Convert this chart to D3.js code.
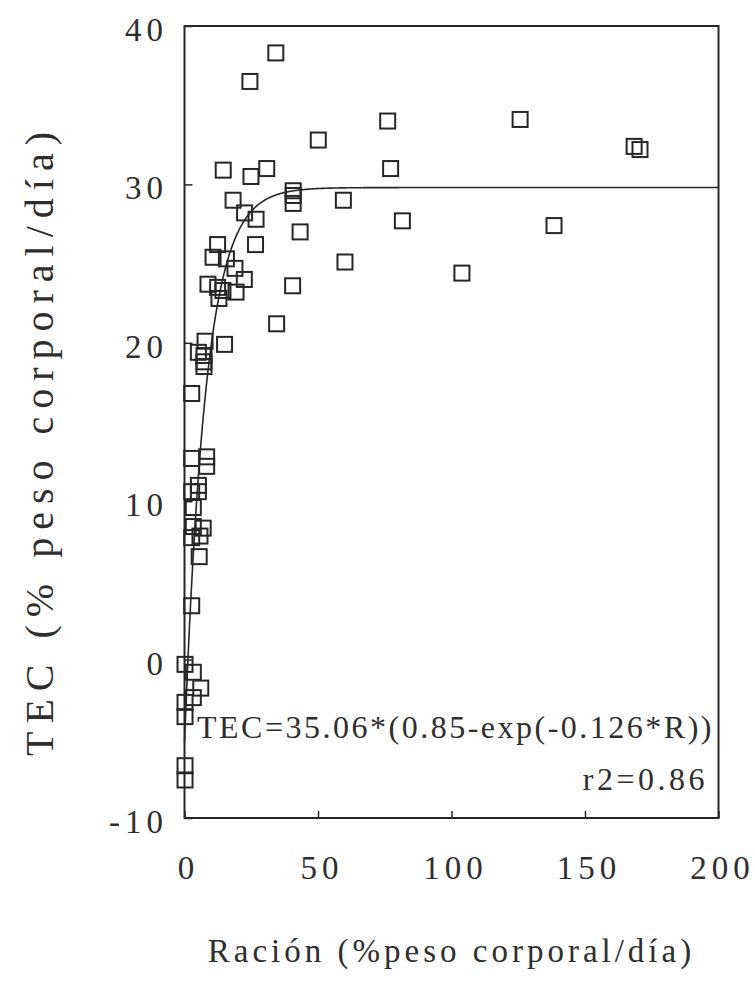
<!DOCTYPE html>
<html>
<head>
<meta charset="utf-8">
<script src="https://cdn.jsdelivr.net/npm/d3@7"></script>
<style>
  html, body { margin: 0; padding: 0; background: #ffffff; }
  svg { display: block; }
</style>
</head>
<body>
<div id="chart"></div>
<script>
// Ración (% peso corporal/día) for each observation
const racion = [
  34.2, 24.5, 50.1, 76.1, 125.7, 168.4, 170.6, 77.2, 14.5, 24.9,
  30.8, 40.7, 40.7, 40.7, 18.2, 59.5, 22.5, 26.8, 81.6, 138.4,
  43.3, 12.4, 26.6, 10.7, 15.7, 60.1, 18.9, 22.4, 103.9, 8.8,
  40.5, 12.4, 14.4, 19.3, 12.9, 34.5, 15.0, 7.7, 5.2, 7.3,
  7.3, 7.3, 2.7, 2.7, 8.3, 8.3, 5.2, 5.2, 2.7, 3.3,
  3.3, 7.0, 5.8, 2.7, 5.5, 2.7, 0.2, 3.3, 6.1, 3.3,
  0.2, 0.2, 0.2, 0.2
];
// TEC (% peso corporal/día) for each observation
const tec = [
  38.3, 36.5, 32.8, 34.0, 34.1, 32.4, 32.2, 31.0, 30.9, 30.5,
  31.0, 29.6, 29.3, 28.8, 29.0, 29.0, 28.2, 27.8, 27.7, 27.4,
  27.0, 26.2, 26.2, 25.4, 25.3, 25.1, 24.7, 24.0, 24.4, 23.7,
  23.6, 23.5, 23.3, 23.2, 22.8, 21.2, 19.9, 20.1, 19.4, 19.2,
  18.8, 18.5, 16.8, 12.7, 12.8, 12.2, 11.0, 10.6, 10.6, 9.6,
  8.4, 8.3, 7.8, 7.7, 6.5, 3.4, -0.3, -0.8, -1.8, -2.4,
  -2.7, -3.6, -6.7, -7.6
];

// Fitted model TEC = A*(B - exp(-K*R))
const fitA = 35.06;
const fitB = 0.85;
const fitK = 0.126;
const fitR2 = 0.86;

const xTicks = [0, 50, 100, 150, 200];
const yTicks = [-10, 0, 10, 20, 30, 40];

const xTitle = "Ración (%peso corporal/día)";
const yTitle = "TEC (% peso corporal/día)";
const eqLabel = "TEC=" + fitA.toFixed(2) + "*(" + fitB.toFixed(2) + "-exp(-" + fitK.toFixed(3) + "*R))";
const r2Label = "r2=" + fitR2.toFixed(2);

const W = 755, H = 986;
const plot = { left: 184.5, right: 718.5, top: 26, bottom: 818 };
const serif = "'Liberation Serif', 'Times New Roman', Times, 'DejaVu Serif', serif";
const ink = "#262626";
const textInk = "#2e2e2e";
const tickFont = 33, tickSpacing = 5;

const svg = d3.select("#chart").append("svg")
  .attr("width", W).attr("height", H)
  .attr("font-family", serif);

svg.append("rect").attr("width", W).attr("height", H).attr("fill", "#ffffff");

const x = d3.scaleLinear().domain([0, 200]).range([plot.left, plot.right]);
const y = d3.scaleLinear().domain([-10, 40]).range([plot.bottom, plot.top]);

// inward ticks along the bottom and left
const xAxis = d3.axisBottom(x).tickValues(xTicks).tickSize(-7).tickFormat("");
const yAxis = d3.axisLeft(y).tickValues(yTicks).tickSize(-8).tickFormat("");

svg.append("g").attr("transform", `translate(0,${plot.bottom})`).call(xAxis)
  .call(g => g.select(".domain").remove())
  .call(g => g.selectAll("line").attr("stroke", ink).attr("stroke-width", 1.5));
svg.append("g").attr("transform", `translate(${plot.left},0)`).call(yAxis)
  .call(g => g.select(".domain").remove())
  .call(g => g.selectAll("line").attr("stroke", ink).attr("stroke-width", 1.5));

// tick labels (letter-spacing also trails the last glyph, so shift by it)
svg.append("g").selectAll("text").data(xTicks).join("text")
  .attr("x", d => x(d) + 1.5 + tickSpacing / 2)
  .attr("y", 879)
  .attr("text-anchor", "middle")
  .attr("font-family", serif)
  .attr("font-size", tickFont)
  .attr("letter-spacing", tickSpacing)
  .attr("fill", textInk)
  .text(d => d);

svg.append("g").selectAll("text").data(yTicks).join("text")
  .attr("x", 163 + tickSpacing)
  .attr("y", d => y(d) + 15)
  .attr("text-anchor", "end")
  .attr("font-family", serif)
  .attr("font-size", tickFont)
  .attr("letter-spacing", tickSpacing)
  .attr("fill", textInk)
  .text(d => d);

// fitted curve
const curveR = d3.range(0, 200.01, 0.25);
const line = d3.line()
  .x(r => x(r))
  .y(r => y(fitA * (fitB - Math.exp(-fitK * r))));
svg.append("path")
  .datum(curveR)
  .attr("d", line)
  .attr("fill", "none")
  .attr("stroke", ink)
  .attr("stroke-width", 1.6);

// observations as open squares
const S = 15;
svg.append("g").selectAll("rect").data(racion.map((r, i) => [r, tec[i]])).join("rect")
  .attr("x", d => x(d[0]) - S / 2)
  .attr("y", d => y(d[1]) - S / 2)
  .attr("width", S)
  .attr("height", S)
  .attr("fill", "none")
  .attr("stroke", ink)
  .attr("stroke-width", 2);

// plot frame
svg.append("rect")
  .attr("x", plot.left).attr("y", plot.top)
  .attr("width", plot.right - plot.left)
  .attr("height", plot.bottom - plot.top)
  .attr("fill", "none")
  .attr("stroke", ink)
  .attr("stroke-width", 2);

// model annotation
svg.append("text")
  .attr("x", 197).attr("y", 738)
  .attr("font-family", serif)
  .attr("font-size", 32)
  .attr("letter-spacing", 2.5)
  .attr("fill", textInk)
  .text(eqLabel);

svg.append("text")
  .attr("x", 708).attr("y", 790)
  .attr("text-anchor", "end")
  .attr("font-family", serif)
  .attr("font-size", 32)
  .attr("letter-spacing", 3.5)
  .attr("fill", textInk)
  .text(r2Label);

// axis titles
svg.append("text")
  .attr("x", (plot.left + plot.right) / 2)
  .attr("y", 962)
  .attr("text-anchor", "middle")
  .attr("font-family", serif)
  .attr("font-size", 33)
  .attr("letter-spacing", 4)
  .attr("fill", textInk)
  .text(xTitle);

svg.append("text")
  .attr("transform", "translate(53,440) rotate(-90)")
  .attr("text-anchor", "middle")
  .attr("font-family", serif)
  .attr("font-size", 40)
  .attr("letter-spacing", 8)
  .attr("fill", textInk)
  .text(yTitle);
</script>
</body>
</html>
